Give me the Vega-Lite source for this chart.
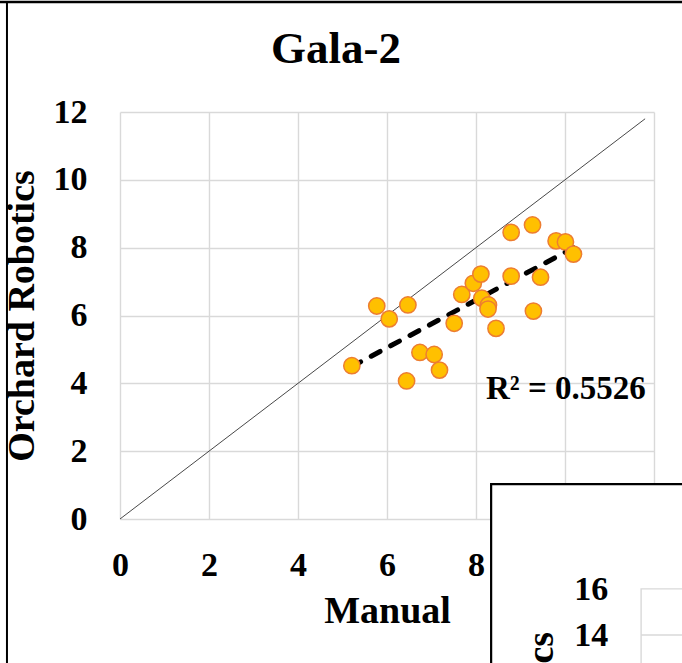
{
  "$schema": "https://vega.github.io/schema/vega-lite/v6.json",
  "width": 534,
  "height": 407,
  "autosize": {"type": "none"},
  "padding": {"left": 120, "top": 112, "right": 28, "bottom": 144},
  "background": "white",
  "config": {"view": {"stroke": null}, "font": "Liberation Serif"},
  "title": {"text": "Gala-2", "font": "Liberation Serif", "fontSize": 45, "fontWeight": "bold", "color": "black", "anchor": "middle", "frame": "group", "dx": -51, "offset": 0, "dy": 107.5, "baseline": "alphabetic"},
  "datasets": {
    "points": [
      {"x": 5.21, "y": 4.52}, {"x": 5.77, "y": 6.28}, {"x": 6.05, "y": 5.90}, {"x": 6.47, "y": 6.31},
      {"x": 6.44, "y": 4.07}, {"x": 6.74, "y": 4.91}, {"x": 7.06, "y": 4.85}, {"x": 7.18, "y": 4.39},
      {"x": 7.51, "y": 5.77}, {"x": 7.68, "y": 6.62}, {"x": 7.94, "y": 6.95}, {"x": 8.11, "y": 7.22},
      {"x": 8.13, "y": 6.51}, {"x": 8.28, "y": 6.31}, {"x": 8.27, "y": 6.19}, {"x": 8.45, "y": 5.62},
      {"x": 8.79, "y": 8.45}, {"x": 8.79, "y": 7.16}, {"x": 9.27, "y": 8.67}, {"x": 9.29, "y": 6.13},
      {"x": 9.45, "y": 7.13}, {"x": 9.80, "y": 8.20}, {"x": 10.01, "y": 8.17}, {"x": 10.19, "y": 7.81}
    ]
  },
  "layer": [
    {
      "data": {"values": [{"x": 0, "y": 0}, {"x": 11.8, "y": 11.8}]},
      "mark": {"type": "line", "color": "#333333", "strokeWidth": 0.9},
      "encoding": {
        "x": {"field": "x", "type": "quantitative", "scale": {"domain": [0, 12], "nice": false, "zero": false},
          "axis": {"values": [0, 2, 4, 6, 8, 10, 12], "grid": true, "gridColor": "#d9d9d9", "gridWidth": 1.4, "domain": false, "ticks": false, "tickSize": 0,
            "labelFont": "Liberation Serif", "labelFontSize": 34, "labelFontWeight": "bold", "labelColor": "black", "labelPadding": 29, "labelFlush": false, "labelOverlap": false,
            "title": "Manual", "titleFont": "Liberation Serif", "titleFontSize": 38, "titleFontWeight": "bold", "titleColor": "black", "titlePadding": 10}},
        "y": {"field": "y", "type": "quantitative", "scale": {"domain": [0, 12], "nice": false, "zero": false},
          "axis": {"values": [0, 2, 4, 6, 8, 10, 12], "grid": true, "gridColor": "#d9d9d9", "gridWidth": 1.4, "domain": false, "ticks": false, "tickSize": 0,
            "labelFont": "Liberation Serif", "labelFontSize": 34, "labelFontWeight": "bold", "labelColor": "black", "labelPadding": 33, "labelFlush": false, "labelOverlap": false,
            "title": "Orchard Robotics", "titleFont": "Liberation Serif", "titleFontSize": 38, "titleFontWeight": "bold", "titleColor": "black", "titlePadding": 12}}
      }
    },
    {
      "data": {"name": "points"},
      "transform": [{"regression": "y", "on": "x"}],
      "mark": {"type": "line", "color": "black", "strokeWidth": 5, "strokeDash": [10, 12], "strokeCap": "round"},
      "encoding": {
        "x": {"field": "x", "type": "quantitative"},
        "y": {"field": "y", "type": "quantitative"}
      }
    },
    {
      "data": {"name": "points"},
      "mark": {"type": "circle", "size": 265, "fill": "#FFC000", "stroke": "#ED7D31", "strokeWidth": 1.5, "opacity": 1},
      "encoding": {
        "x": {"field": "x", "type": "quantitative"},
        "y": {"field": "y", "type": "quantitative"}
      }
    },
    {
      "data": {"values": [{"x": 10.02, "y": 3.53, "label": "R² = 0.5526"}]},
      "mark": {"type": "text", "font": "Liberation Serif", "fontSize": 33, "fontWeight": "bold", "color": "black", "align": "center", "baseline": "alphabetic"},
      "encoding": {
        "x": {"field": "x", "type": "quantitative"},
        "y": {"field": "y", "type": "quantitative"},
        "text": {"field": "label"}
      }
    },
    {
      "data": {"values": [{"x": 8.34, "x2": 20, "y": 1.03, "y2": -10}]},
      "mark": {"type": "rect", "fill": "white", "stroke": "black", "strokeWidth": 2.2, "clip": false},
      "encoding": {
        "x": {"field": "x", "type": "quantitative"},
        "x2": {"field": "x2"},
        "y": {"field": "y", "type": "quantitative"},
        "y2": {"field": "y2"}
      }
    },
    {
      "data": {"values": [{"x": 11.71, "x2": 20, "y": -2.06, "y2": -10}]},
      "mark": {"type": "rect", "fill": "white", "stroke": "#d9d9d9", "strokeWidth": 1.4, "clip": false},
      "encoding": {
        "x": {"field": "x", "type": "quantitative"},
        "x2": {"field": "x2"},
        "y": {"field": "y", "type": "quantitative"},
        "y2": {"field": "y2"}
      }
    },
    {
      "data": {"values": [{"x": 11.71, "x2": 20, "y": -3.42}]},
      "mark": {"type": "rule", "color": "#d9d9d9", "strokeWidth": 1.4, "clip": false},
      "encoding": {
        "x": {"field": "x", "type": "quantitative"},
        "x2": {"field": "x2"},
        "y": {"field": "y", "type": "quantitative"}
      }
    },
    {
      "data": {"values": [{"x": 10.97, "y": -2.39, "label": "16"}, {"x": 10.97, "y": -3.73, "label": "14"}]},
      "mark": {"type": "text", "font": "Liberation Serif", "fontSize": 34, "fontWeight": "bold", "color": "black", "align": "right", "baseline": "alphabetic", "clip": false},
      "encoding": {
        "x": {"field": "x", "type": "quantitative"},
        "y": {"field": "y", "type": "quantitative"},
        "text": {"field": "label"}
      }
    },
    {
      "data": {"values": [{"x": 9.73, "y": -3.33, "label": "Orchard Robotics"}]},
      "mark": {"type": "text", "font": "Liberation Serif", "fontSize": 38, "fontWeight": "bold", "color": "black", "align": "right", "baseline": "alphabetic", "angle": 270, "clip": false},
      "encoding": {
        "x": {"field": "x", "type": "quantitative"},
        "y": {"field": "y", "type": "quantitative"},
        "text": {"field": "label"}
      }
    },
    {
      "data": {"values": [{"x": -2.54, "y": 15.24, "y2": -20}]},
      "mark": {"type": "rule", "color": "black", "strokeWidth": 2, "clip": false},
      "encoding": {
        "x": {"field": "x", "type": "quantitative"},
        "y": {"field": "y", "type": "quantitative"},
        "y2": {"field": "y2"}
      }
    },
    {
      "data": {"values": [{"x": -5, "x2": 20, "y": 15.24}]},
      "mark": {"type": "rule", "color": "black", "strokeWidth": 2.5, "clip": false},
      "encoding": {
        "x": {"field": "x", "type": "quantitative"},
        "x2": {"field": "x2"},
        "y": {"field": "y", "type": "quantitative"}
      }
    }
  ]
}
